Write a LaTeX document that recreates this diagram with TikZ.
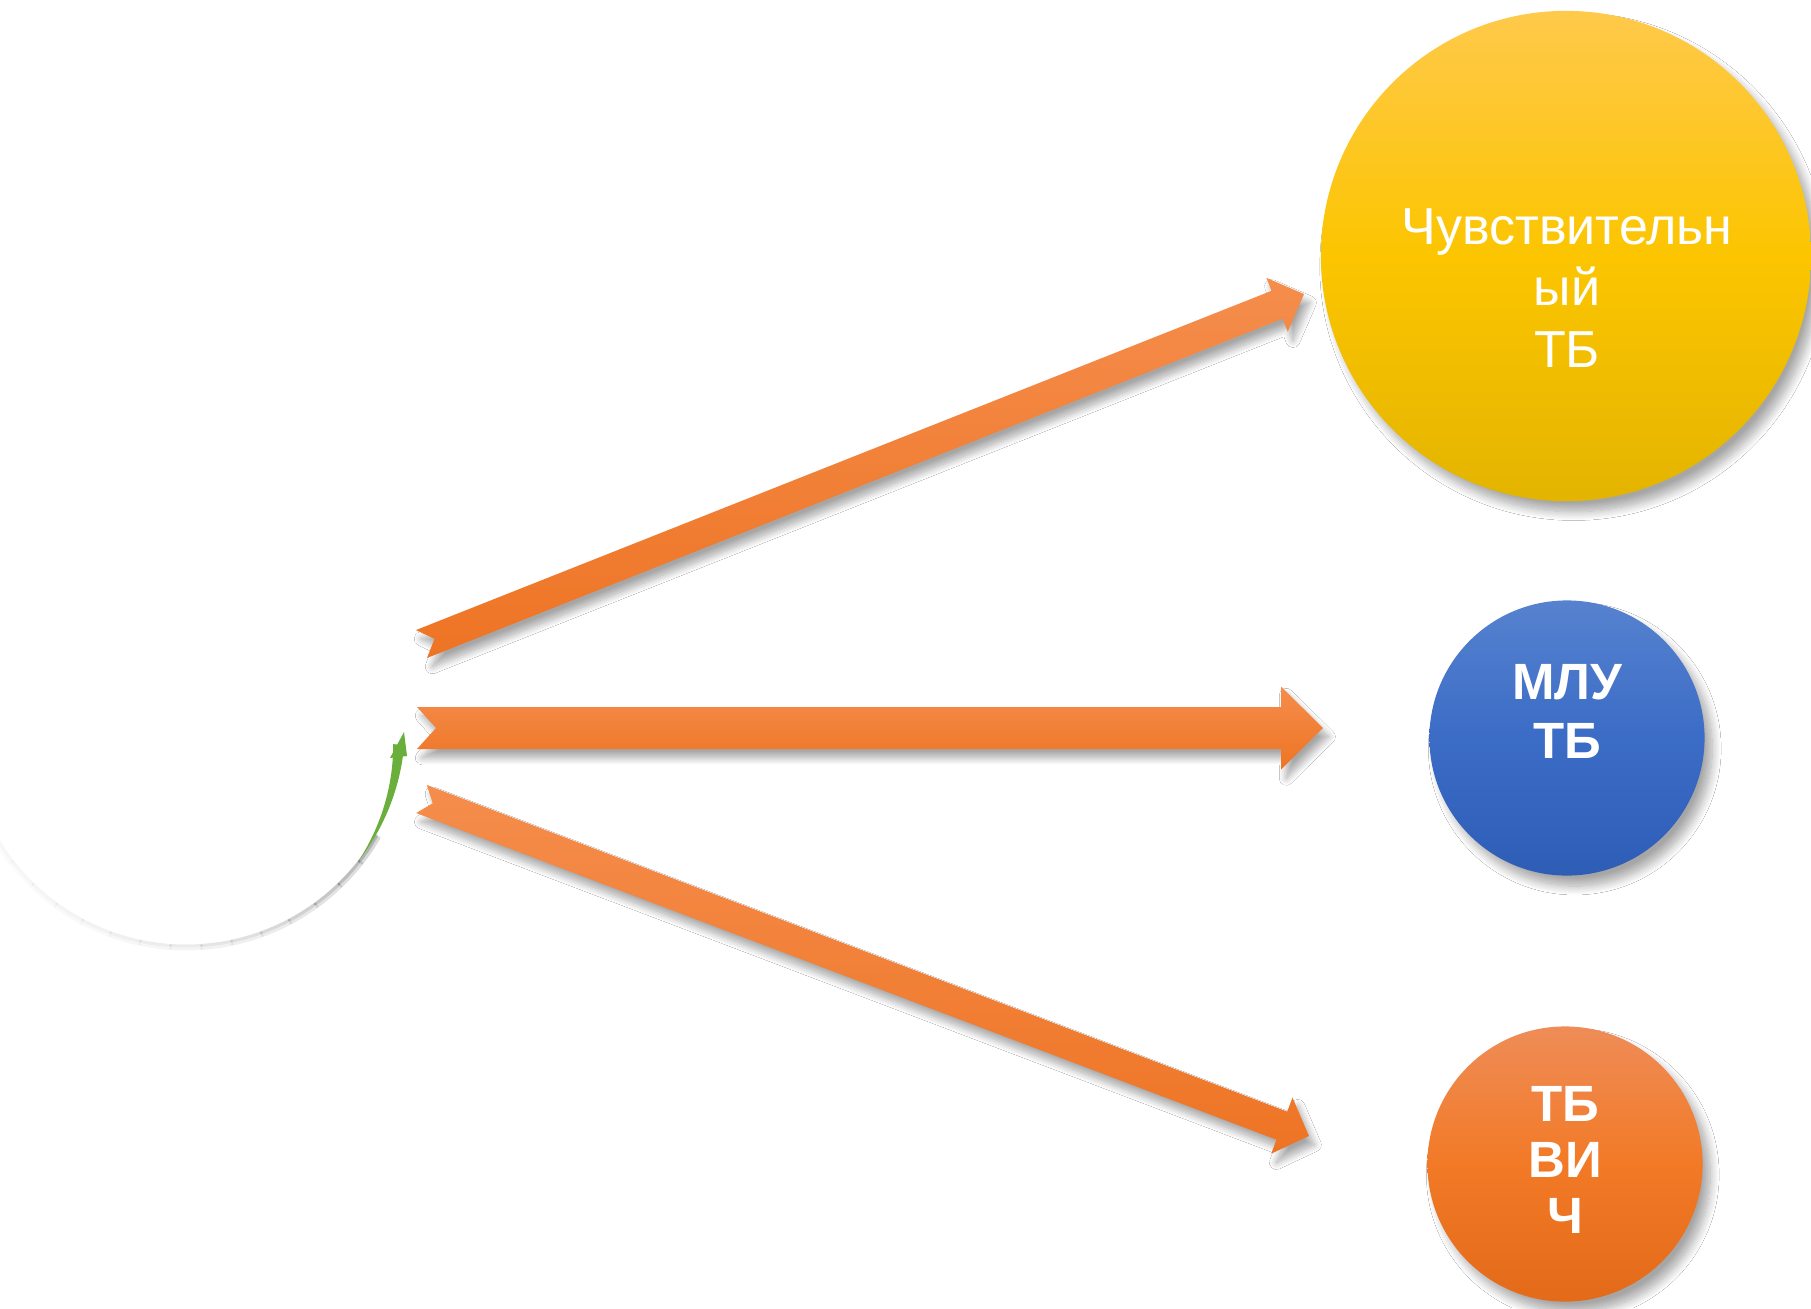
\documentclass[tikz,border=0pt]{standalone}
\usepackage{fontspec}
\setmainfont{Liberation Sans}
\usetikzlibrary{calc,shadows.blur}
\definecolor{yeltop}{HTML}{FFC94B}
\definecolor{yelmid}{HTML}{FCC500}
\definecolor{yelbot}{HTML}{E3B400}
\definecolor{blutop}{HTML}{5682CF}
\definecolor{blumid}{HTML}{3B6CC6}
\definecolor{blubot}{HTML}{2E5DB6}
\definecolor{orntop}{HTML}{EF8C57}
\definecolor{ornmid}{HTML}{F27A27}
\definecolor{ornbot}{HTML}{E26A18}
\definecolor{arrtop}{HTML}{F58D4C}
\definecolor{arrbot}{HTML}{EE7424}
\definecolor{grn}{HTML}{6AAF3C}
\tikzset{
  bubble/.style={circle, inner sep=0pt, draw=none,
    blur shadow={shadow xshift=2.2pt, shadow yshift=-3pt, shadow blur radius=2.5pt, shadow blur steps=12, shadow opacity=35}},
  arrowbody/.style={top color=arrtop, bottom color=arrbot, draw=none,
    blur shadow={shadow xshift=1.5pt, shadow yshift=-2.5pt, shadow blur radius=2pt, shadow blur steps=12, shadow opacity=35}},
  lbl/.style={text=white, align=center, inner sep=0pt},
  softedge/.style={black, line width=0.03cm, line cap=round},
}
% #1 tail coordinate, #2 angle, #3 length, #4 half shaft, #5 half head, #6 head length, #7 notch depth
\newcommand{\notcharrow}[7]{%
  \begin{scope}[shift={(#1)}, rotate=#2]
  \path[arrowbody] (0,-#4) -- (#3-#6,-#4) -- (#3-#6,-#5) -- (#3,0) -- (#3-#6,#5)
    -- (#3-#6,#4) -- (0,#4) -- (#7,0) -- cycle;
  \end{scope}
}
\begin{document}
\begin{tikzpicture}[x=0.01cm,y=-0.01cm]
\useasboundingbox (0,0) rectangle (1811,1308);
\fill[white] (0,0) rectangle (1811,1308);

% source circle (white) with faint lower-right edge and green cycle arc
\node[circle, inner sep=0pt, fill=white, minimum size=4.36cm] (src) at (186,726) {};
\foreach \a/\o in {30/0.30,38/0.26,46/0.22,54/0.18,62/0.15,70/0.12,78/0.10,86/0.08,94/0.07,102/0.06,110/0.05,118/0.045,126/0.04,134/0.035,142/0.03}{
  \draw[softedge, opacity=\o] plot[domain=\a:\a+8,samples=6] ({186+220*cos(\x)},{726+220*sin(\x)});
  \draw[softedge, opacity=\o*0.5] plot[domain=\a:\a+8,samples=6] ({186+223*cos(\x)},{726+223*sin(\x)});
}
\fill[grn] plot[domain=38:5,samples=30] ({186+219*cos(\x)},{726+219*sin(\x)})
  -- plot[domain=5:38,samples=30] ({186+(219-11*(38-\x)/33)*cos(\x)},{726+(219-11*(38-\x)/33)*sin(\x)}) -- cycle;
\coordinate (gtip) at (404,732);
\coordinate (gl) at (390,758);
\coordinate (gr) at (407,756);
\fill[grn] (gl) -- (gtip) -- (gr) -- cycle;

% target circles
\node[bubble, minimum size=4.9cm, top color=yeltop, bottom color=yelbot, middle color=yelmid] (sens) at (1566,256) {};
\node[bubble, minimum size=2.75cm, top color=blutop, bottom color=blubot, middle color=blumid] (mdr) at (1567,738) {};
\node[bubble, minimum size=2.75cm, top color=orntop, bottom color=ornbot, middle color=ornmid] (hiv) at (1565,1164) {};

% labels
\node[lbl, font=\fontsize{14.8}{17.4}\selectfont] (sensT) at (1567,288) {Чувствительн\\ый\\ТБ};
\node[lbl, font=\fontsize{14.5}{16.8}\selectfont\bfseries] (mdrT) at (1567,711) {МЛУ\\ТБ};
\node[lbl, font=\fontsize{14.5}{16}\selectfont\bfseries] (hivT) at (1565,1160) {ТБ\\ВИ\\Ч};

% arrows (tail coordinates, tips at the circles)
\coordinate (t1) at (421.5,644);
\coordinate (p1) at (1304,294);
\notcharrow{t1}{21.63}{949.4}{15}{29}{29}{14}
\coordinate (t2) at (417,728);
\coordinate (p2) at (1323,728);
\notcharrow{t2}{0}{906}{21}{41.5}{42}{19}
\coordinate (t3) at (421.5,799);
\coordinate (p3) at (1309,1136);
\notcharrow{t3}{-20.79}{949.3}{15}{30}{29}{12}
\end{tikzpicture}
\end{document}
